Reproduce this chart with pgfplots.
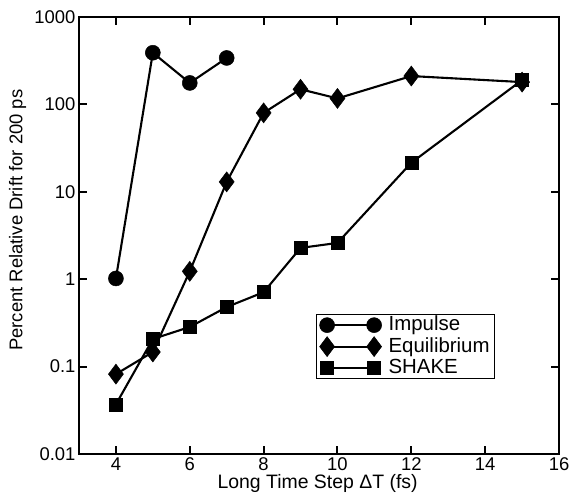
\documentclass[border=0pt]{standalone}
\usepackage{fontspec}
\setmainfont{Liberation Sans}
\usepackage{pgfplots}
\pgfplotsset{compat=1.18}

\begin{document}
\begin{tikzpicture}
\begin{axis}[
  name=ax,
  scale only axis, width=480bp, height=437bp,
  xmin=3, xmax=16, ymode=log, ymin=0.01, ymax=1000,
  xtick={4,6,...,16},
  ytick={0.01,0.1,1,10,100,1000},
  yticklabels={0.01,0.1,1,10,100,1000},
  yminorticks=false,
  tick align=inside, major tick length=8bp,
  every tick/.style={black, line width=2bp},
  axis line style={line width=2.2bp},
  /pgf/number format/assume math mode=true,
  tick label style={font=\fontsize{18.5}{20}\selectfont},
  xlabel={Long Time Step ΔT (fs)},
  ylabel={Percent Relative Drift for 200 ps},
  xlabel style={font=\fontsize{19.5}{21}\selectfont, at={(axis description cs:0.497,-0.078)}, anchor=base},
  ylabel style={font=\fontsize{18.5}{20}\selectfont, at={(axis description cs:-0.128,0.535)}, anchor=center},
  legend style={at={(axis description cs:0.494,0.32)}, anchor=north west,
    draw=black, line width=1bp, font=\fontsize{20.5}{21}\selectfont,
    inner xsep=3bp, inner ysep=1bp, row sep=2bp, column sep=5bp,
    nodes={inner ysep=0bp, text height=15bp, text depth=4bp}},
  legend cell align=left,
  legend image code/.code={
    \draw[mark repeat=2, mark phase=1] plot coordinates {(0bp,0bp)(23.5bp,0bp)(47bp,0bp)};},
  every axis plot/.append style={black, line width=2.1bp, mark options={line width=0.5bp}},
]
\addplot[mark=*, mark size=7.5bp] coordinates {
(4,1.02)(5,390)(6,176)(7,340)};
\addlegendentry{Impulse}
\addplot[mark=diamond*, mark size=10bp] coordinates {
(4,0.082)(5,0.147)(6,1.23)(7,13)(8,80)(9,149)(10,117)(12,211)(15,180)};
\addlegendentry{Equilibrium}
\addplot[mark=square*, mark size=6.5bp] coordinates {
(4,0.037)(5,0.207)(6,0.284)(7,0.48)(8,0.71)(9,2.28)(10,2.6)(12,21.5)(15,190)};
\addlegendentry{SHAKE}
\end{axis}
\pgfresetboundingbox
\path[use as bounding box] ([shift={(-79bp,-47bp)}]ax.south west) rectangle ([shift={(492bp,454bp)}]ax.south west);
\end{tikzpicture}
\end{document}
